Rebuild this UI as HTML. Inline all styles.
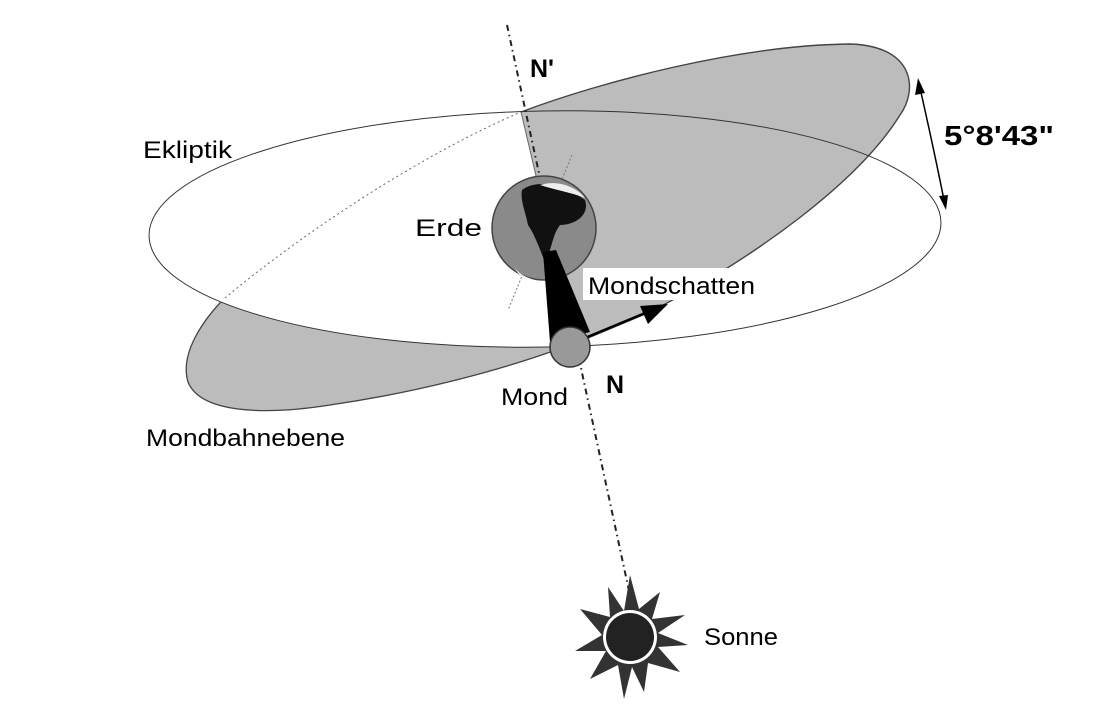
<!DOCTYPE html>
<html><head><meta charset="utf-8"><style>
html,body{margin:0;padding:0;background:#fff;}
svg{display:block;}
text{font-family:"Liberation Sans",Arial,sans-serif;fill:#000;}
</style></head><body>
<svg width="1094" height="719" viewBox="0 0 1094 719" xmlns="http://www.w3.org/2000/svg">
<defs>
<mask id="outEcl">
<rect x="0" y="0" width="1094" height="719" fill="#fff"/>
<ellipse cx="545" cy="229" rx="396" ry="118" transform="rotate(-1 545 229)" fill="#000"/>
</mask>
</defs>
<!-- right lobe -->
<path d="M521,112 C600,82 740,45 850,44 C915,46 918,90 900,115 C860,180 760,255 650,312 L588,338 L560,300 L545,265 L537,180 Z" fill="#bcbcbc"/>
<path d="M521,112 C600,82 740,45 850,44 C915,46 918,90 900,115 C860,180 760,255 650,312 L588,338" fill="none" stroke="#444" stroke-width="1.4"/>
<!-- left lobe -->
<g mask="url(#outEcl)">
<path d="M235,288 C200,320 180,355 188,382 C200,412 260,416 330,405 C420,392 500,370 556,350 L556,300 Z" fill="#bcbcbc"/>
<path d="M235,288 C200,320 180,355 188,382 C200,412 260,416 330,405 C420,392 500,370 556,350" fill="none" stroke="#444" stroke-width="1.3"/>
</g>
<!-- hidden top edge -->
<path d="M225,298 C300,235 420,155 521,112" fill="none" stroke="#666" stroke-width="1" stroke-dasharray="2 3"/>
<!-- ecliptic -->
<ellipse cx="545" cy="229" rx="396" ry="118" transform="rotate(-1 545 229)" fill="none" stroke="#333" stroke-width="1"/>
<path d="M521,112 L537,180" stroke="#666" stroke-width="1"/>
<!-- node line -->
<line x1="507" y1="25" x2="631" y2="600" stroke="#222" stroke-width="2" stroke-dasharray="6 4 1.5 4"/>
<!-- earth axis -->
<line x1="572" y1="155" x2="508" y2="310" stroke="#777" stroke-width="1" stroke-dasharray="2 2"/>
<!-- earth -->
<circle cx="544" cy="228" r="52" fill="#8a8a8a" stroke="#444" stroke-width="1.5"/>
<path d="M522,190 C535,180 560,182 585,200 C590,215 575,225 560,225 C552,235 552,250 545,262 C540,250 535,235 528,225 C525,210 520,200 522,190Z" fill="#111"/>
<path d="M540,185 C555,180 575,185 585,198 C570,192 555,190 540,185Z" fill="#eee"/>
<path d="M515,268 C520,275 528,278 535,280 C525,280 518,275 515,268Z" fill="#eee"/>
<!-- shadow -->
<polygon points="543,252 556,250 590,332 550,342" fill="#000"/>
<!-- arrow -->
<line x1="585" y1="338" x2="650" y2="311" stroke="#000" stroke-width="2.5"/>
<polygon points="668,304 640,306 648,324" fill="#000"/>
<!-- moon -->
<circle cx="570" cy="347" r="20" fill="#999" stroke="#333" stroke-width="1.5"/>
<!-- sun -->
<g transform="translate(630,637)">
<polygon fill="#333" points="0,-62 9,-28 30,-45 22,-18 55,-22 28,-4 58,8 28,10 50,35 18,26 14,55 2,30 -6,62 -12,28 -40,42 -24,14 -55,14 -28,-2 -50,-28 -20,-20 -22,-50 -6,-26"/>
<circle r="27" fill="#fff"/>
<circle r="24" fill="#222"/>
</g>
<!-- 5°8'43" arrow -->
<path d="M920,88 Q934,150 944,200" fill="none" stroke="#000" stroke-width="1.5"/>
<polygon points="918,78 915,95 925,93" fill="#000"/>
<polygon points="946,210 939,196 948,195" fill="#000"/>
<!-- labels -->
<text x="944" y="145" font-size="28" font-weight="bold" textLength="110" lengthAdjust="spacingAndGlyphs">5°8'43"</text>
<text x="530" y="77" font-size="25" font-weight="bold">N'</text>
<text x="606" y="393" font-size="25" font-weight="bold">N</text>
<text x="143" y="158" font-size="24" textLength="89" lengthAdjust="spacingAndGlyphs">Ekliptik</text>
<text x="415" y="236" font-size="24" textLength="67" lengthAdjust="spacingAndGlyphs">Erde</text>
<rect x="583" y="268" width="175" height="32" fill="#fff"/>
<text x="588" y="294" font-size="24" textLength="167" lengthAdjust="spacingAndGlyphs">Mondschatten</text>
<text x="501" y="405" font-size="24" textLength="67" lengthAdjust="spacingAndGlyphs">Mond</text>
<text x="146" y="446" font-size="24" textLength="199" lengthAdjust="spacingAndGlyphs">Mondbahnebene</text>
<text x="704" y="645" font-size="24" textLength="74" lengthAdjust="spacingAndGlyphs">Sonne</text>
</svg>
</body></html>
